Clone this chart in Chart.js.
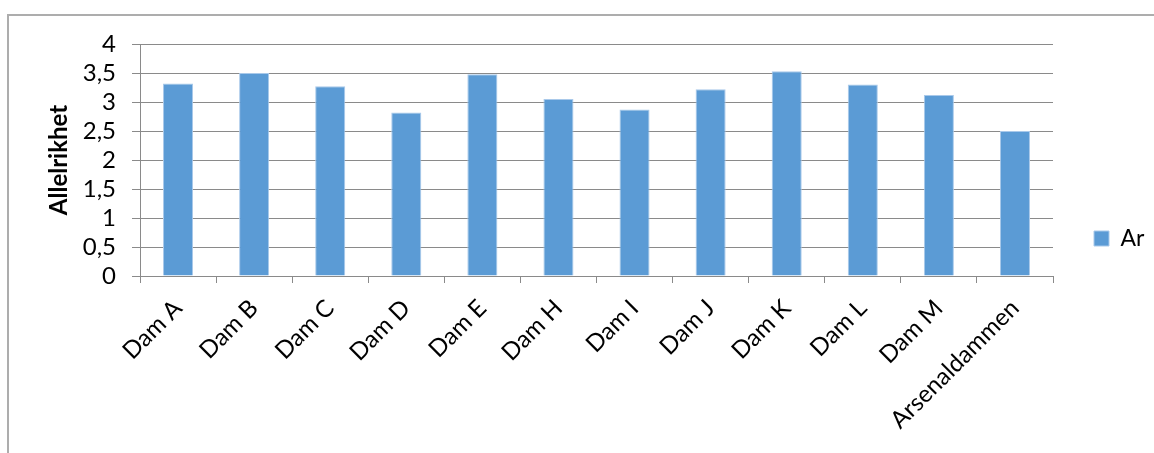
<!DOCTYPE html>
<html>
<head>
<meta charset="utf-8">
<script src="https://cdn.jsdelivr.net/npm/chart.js@4"></script>
<style>
  html, body { margin: 0; padding: 0; background: #fff; }
  #wrap { position: relative; width: 1154px; height: 453px; overflow: hidden; }
  #frame { position: absolute; left: 7px; top: 14px; width: 1200px; height: 500px;
           border-top: 2px solid #adadad; border-left: 2px solid #adadad; box-sizing: border-box; }
  canvas { position: absolute; left: 0; top: 0; }
</style>
</head>
<body>
<div id="wrap">
  <div id="frame"></div>
  <canvas id="c" width="1154" height="453"></canvas>
</div>
<script>
// Allelic richness per pond
const categories = ['Dam A', 'Dam B', 'Dam C', 'Dam D', 'Dam E', 'Dam H', 'Dam I', 'Dam J', 'Dam K', 'Dam L', 'Dam M', 'Arsenaldammen'];
const arValues = [3.32, 3.50, 3.27, 2.82, 3.48, 3.05, 2.87, 3.22, 3.53, 3.30, 3.12, 2.50];
const yTickLabels = ['0', '0,5', '1', '1,5', '2', '2,5', '3', '3,5', '4'];
const seriesName = 'Ar';
const axisTitle = 'Allelrikhet';

const FONT = 'Lato, "Open Sans", sans-serif';
const GRID = '#8a8a8a';
const BAR = '#5b9bd5';

// keep the legend column at a fixed width so the plot ends where it should
const legendWidthPlugin = {
  id: 'legendWidth',
  afterInit(chart) {
    const lg = chart.legend;
    if (!lg) return;
    const fit = lg.fit;
    lg.fit = function () {
      fit.call(this);
      this.width = 101;
    };
  }
};

new Chart(document.getElementById('c'), {
  type: 'bar',
  data: {
    labels: categories,
    datasets: [{
      label: seriesName,
      data: arValues,
      backgroundColor: BAR,
      borderColor: '#a9c9ea',
      borderWidth: 1,
      categoryPercentage: 1,
      barPercentage: 0.395
    }]
  },
  options: {
    responsive: false,
    animation: false,
    devicePixelRatio: 1,
    layout: { padding: { left: 0, top: 44, right: 0, bottom: 20 } },
    plugins: {
      tooltip: { enabled: false },
      legend: {
        position: 'right',
        align: 'center',
        labels: {
          font: { family: FONT, size: 23 },
          color: '#000',
          boxWidth: 15,
          boxHeight: 15,
          padding: 41
        }
      }
    },
    scales: {
      x: {
        grid: { display: true, drawOnChartArea: false, drawTicks: true, tickLength: 7, color: GRID, offset: true },
        border: { display: true, color: GRID },
        ticks: {
          font: { family: FONT, size: 24 },
          color: '#000',
          minRotation: 45,
          maxRotation: 45,
          autoSkip: false,
          padding: 11
        },
        afterFit(s) { s.height = 453 - 20 - 276; }
      },
      y: {
        min: 0,
        max: 4,
        grid: { color: GRID, tickLength: 8 },
        border: { display: true, color: GRID },
        ticks: {
          stepSize: 0.5,
          autoSkip: false,
          font: { family: FONT, size: 24 },
          color: '#000',
          padding: 16,
          callback: (v, i) => yTickLabels[i]
        },
        title: {
          display: true,
          text: axisTitle,
          font: { family: FONT, size: 24, weight: 'bold' },
          color: '#000',
          padding: { top: 45, bottom: 0 }
        },
        afterFit(s) { s.width = 140; }
      }
    }
  },
  plugins: [legendWidthPlugin]
});
</script>
</body>
</html>
